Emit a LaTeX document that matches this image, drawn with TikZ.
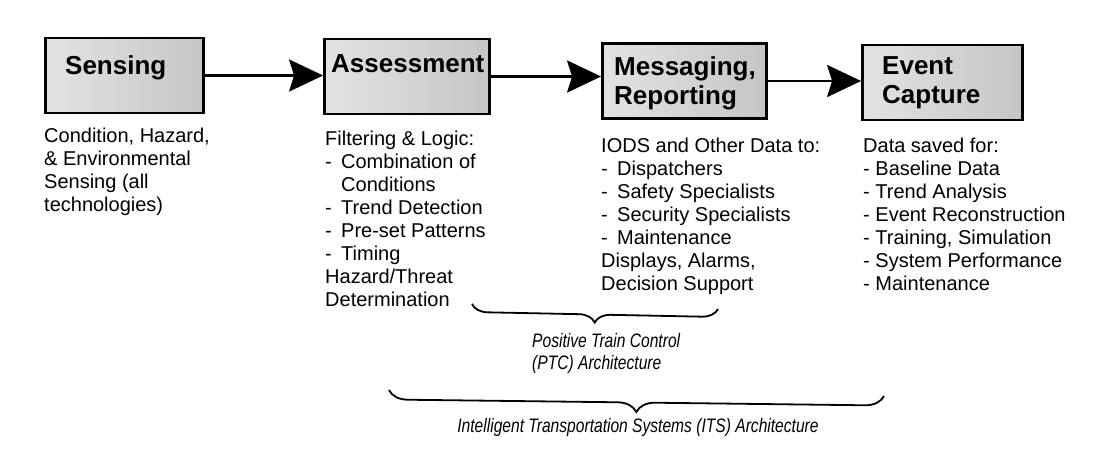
\documentclass[tikz,border=0pt]{standalone}
\usepackage{fontspec}
\setmainfont{Liberation Sans}
\newfontfamily\narrowfont[FakeStretch=0.8]{Liberation Sans}
\usetikzlibrary{arrows.meta,decorations.pathreplacing,positioning}

% dash bullet with hanging text
\newcommand{\dashitem}[1]{\makebox[16pt][l]{-}#1}
\newcommand{\hangon}{\makebox[16pt]{}}

\tikzset{
  stage/.style={draw=black, line width=2.8pt, left color=gray!22, right color=gray!45,
    minimum width=#1, minimum height=75pt, inner sep=0pt},
  stagetxt/.style={anchor=north west, inner sep=0pt, align=left,
    font={\fontsize{26}{29}\selectfont\bfseries}},
  bodytxt/.style={anchor=north west, inner sep=0pt, align=left,
    font={\fontsize{20}{23}\selectfont}},
  flow/.style={line width=2.8pt, -{Stealth[length=34pt,width=32pt,inset=5pt]}},
  archbrace/.style={decorate, decoration={brace, mirror, amplitude=#1}, line width=1.8pt},
  archtxt/.style={inner sep=0pt, align=left,
    font={\narrowfont\itshape\fontsize{19.5}{22}\selectfont}}
}

\begin{document}
\begin{tikzpicture}[x=1pt, y=-1pt]
  \useasboundingbox[fill=white] (0,0) rectangle (1097,450);

  % the four stages
  \node[stage=158pt] (sense)  at (124.5,75.5) {};
  \node[stage=165pt] (assess) at (407,76.5) {};
  \node[stage=164pt] (msg)    at (684.5,81) {};
  \node[stage=160pt] (event)  at (942.5,82.5) {};

  \node[stagetxt] (senselbl)  at (65,55)  {Sensing};
  \node[stagetxt] (assesslbl) at (331,54) {Assessment};
  \node[stagetxt] (msglbl)    at (614,56) {Messaging,\\ Reporting};
  \node[stagetxt] (eventlbl)  at (882,56) {Event\\ Capture};

  \draw[flow] (sense.east)  -- (sense.east -| assess.west);
  \draw[flow] (assess.east) -- (assess.east -| msg.west);
  \draw[flow] (msg.east)    -- (msg.east -| event.west);

  % what each stage covers
  \node[bodytxt] (sensebody) at (44,128) {Condition, Hazard,\\ \& Environmental\\ Sensing (all\\ technologies)};
  \node[bodytxt] (assessbody) at (325,131) {Filtering \& Logic:\\
    \dashitem{Combination of}\\ \hangon Conditions\\ \dashitem{Trend Detection}\\
    \dashitem{Pre-set Patterns}\\ \dashitem{Timing}\\ Hazard/Threat\\ Determination};
  \node[bodytxt] (msgbody) at (601,138) {IODS and Other Data to:\\
    \dashitem{Dispatchers}\\ \dashitem{Safety Specialists}\\ \dashitem{Security Specialists}\\
    \dashitem{Maintenance}\\ Displays, Alarms,\\ Decision Support};
  \node[bodytxt] (eventbody) at (863,138) {Data saved for:\\ - Baseline Data\\ - Trend Analysis\\
    - Event Reconstruction\\ - Training, Simulation\\ - System Performance\\ - Maintenance};

  % architecture braces
  \coordinate (ptcl) at (472,304);
  \coordinate (ptcr) at (718,309);
  \draw[archbrace=16pt] (ptcl) -- (ptcr);
  \node[archtxt, anchor=north west] (ptctxt) at (532,333) {Positive Train Control\\ (PTC) Architecture};

  \coordinate (itsl) at (389,390);
  \coordinate (itsr) at (884,396);
  \draw[archbrace=19pt] (itsl) -- (itsr);
  \node[archtxt] (itstxt) at (638,427) {Intelligent Transportation Systems (ITS) Architecture};
\end{tikzpicture}
\end{document}
